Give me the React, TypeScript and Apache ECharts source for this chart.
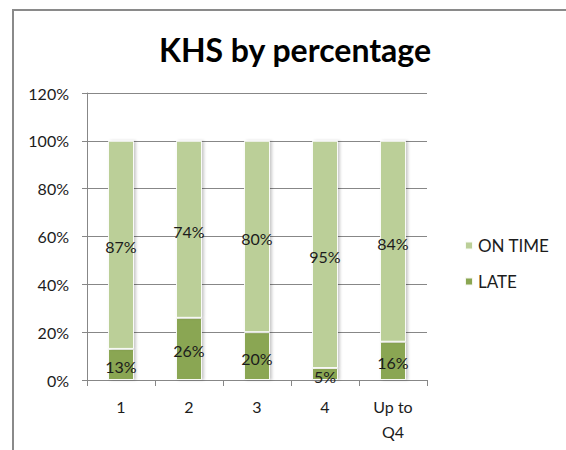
import React, { useEffect, useRef } from "react";
import * as echarts from "echarts";

const categories = ["1", "2", "3", "4", "Up to\nQ4"];
const lateValues = [13, 26, 20, 5, 16];
const onTimeValues = [87, 74, 80, 95, 84];
const seriesNames = ["LATE", "ON TIME"];
const titleText = "KHS by percentage";

const FONT = "Lato";
const TEXT = "#1c1c1c";
const GRID = "#878787";

export default function App() {
  const ref = useRef<HTMLDivElement>(null);
  useEffect(() => {
    document.body.style.margin = "0";
    const chart = echarts.init(ref.current!, null, { renderer: "svg" });
    const barStyle = (color: string) => ({
      color,
      borderColor: "rgba(255,255,255,0.9)",
      borderWidth: 1,
      shadowColor: "rgba(0,0,0,0.22)",
      shadowBlur: 3,
      shadowOffsetX: 2,
      shadowOffsetY: 0,
    });
    const label = {
      show: true,
      position: "inside",
      formatter: "{c}%",
      color: TEXT,
      fontFamily: FONT,
      fontSize: 16,
      offset: [0, 2],
    };
    chart.setOption({
      animation: false,
      backgroundColor: "#ffffff",
      textStyle: { fontFamily: FONT },
      title: {
        text: titleText,
        left: 290,
        textAlign: "center",
        top: 28,
        textStyle: { fontFamily: FONT, fontWeight: "bold", fontSize: 32, color: "#000" },
      },
      graphic: [
        {
          type: "rect",
          shape: { x: 13, y: 10, width: 700, height: 600 },
          style: { fill: "none", stroke: "#8a8a8a", lineWidth: 2 },
          silent: true,
        },
      ],
      legend: {
        data: ["ON TIME", "LATE"],
        orient: "vertical",
        left: 459,
        top: 232,
        itemWidth: 8,
        itemHeight: 8,
        itemGap: 19,
        icon: "rect",
        textStyle: { fontFamily: FONT, fontSize: 17, color: TEXT, padding: [0, 0, 0, 0] },
      },
      grid: { left: 87, right: 139, top: 93, bottom: 70, containLabel: false },
      xAxis: {
        type: "category",
        data: categories,
        axisLine: { lineStyle: { color: GRID, width: 1 } },
        axisTick: { show: true, length: 6, lineStyle: { color: GRID } },
        axisLabel: { color: TEXT, fontFamily: FONT, fontSize: 16, margin: 14, lineHeight: 25 },
      },
      yAxis: {
        type: "value",
        min: 0,
        max: 120,
        interval: 20,
        axisLine: { show: true, lineStyle: { color: GRID, width: 1 } },
        axisTick: { show: true, length: 5, lineStyle: { color: GRID } },
        splitLine: { show: true, lineStyle: { color: GRID, width: 1 } },
        axisLabel: { formatter: "{value}%", color: TEXT, fontFamily: FONT, fontSize: 16, margin: 18 },
      },
      series: [
        {
          name: seriesNames[0],
          type: "bar",
          stack: "total",
          data: lateValues,
          barWidth: 26,
          itemStyle: barStyle("#8aa652"),
          label,
        },
        {
          name: seriesNames[1],
          type: "bar",
          stack: "total",
          data: onTimeValues,
          barWidth: 26,
          itemStyle: barStyle("#bbcf98"),
          label,
        },
      ],
    });
    return () => chart.dispose();
  }, []);
  return <div ref={ref} style={{ position: "fixed", left: 0, top: 0, width: 566, height: 450 }} />;
}
